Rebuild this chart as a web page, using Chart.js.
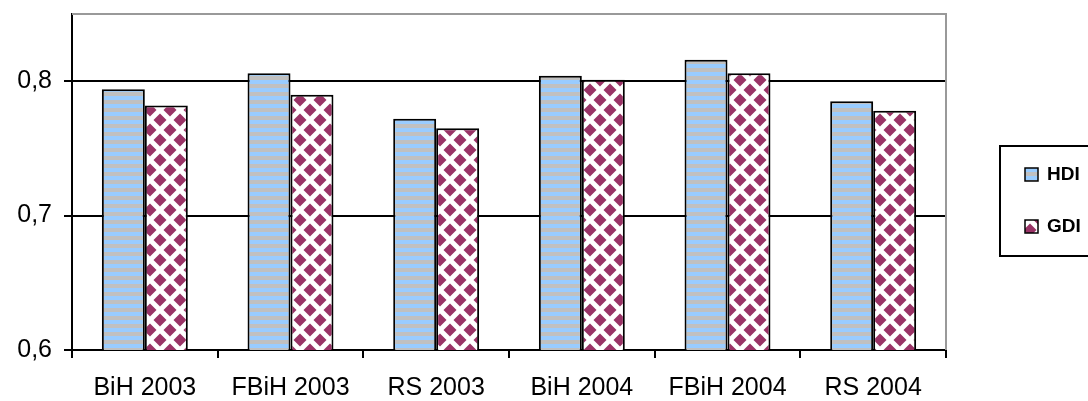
<!DOCTYPE html>
<html lang="en">
<head>
    <meta charset="UTF-8">
    <title>HDI / GDI</title>
    <script src="https://cdn.jsdelivr.net/npm/chart.js"></script>
    <style>
        body {
            margin: 0;
            padding: 0;
            background-color: #fff;
        }

        #chart-container {
            width: 1088px;
            height: 401px;
        }
    </style>
</head>
<body>
<div id="chart-container">
    <canvas id="chart1" width="1088" height="401"></canvas>
</div>

<script>
    var categories = ['BiH 2003', 'FBiH 2003', 'RS 2003', 'BiH 2004', 'FBiH 2004', 'RS 2004'];
    var hdiValues = [0.794, 0.806, 0.772, 0.804, 0.816, 0.785];
    var gdiValues = [0.782, 0.790, 0.765, 0.801, 0.806, 0.778];
    var yTicks = [0.6, 0.7, 0.8];

    // horizontal stripes, light blue / grey
    function stripePattern(ctx) {
        var c = document.createElement('canvas');
        c.width = 8;
        c.height = 8;
        var g = c.getContext('2d');
        g.fillStyle = '#99ccff';
        g.fillRect(0, 0, 8, 4);
        g.fillStyle = '#c0c0c0';
        g.fillRect(0, 4, 8, 4);
        return ctx.createPattern(c, 'repeat');
    }

    // maroon diamonds on white
    function diamondPattern(ctx) {
        var c = document.createElement('canvas');
        c.width = 20;
        c.height = 20;
        var g = c.getContext('2d');
        g.fillStyle = '#fff';
        g.fillRect(0, 0, 20, 20);
        g.fillStyle = '#993366';
        var centers = [[0, 0], [20, 0], [0, 20], [20, 20], [10, 10]];
        var r = 6.5;
        centers.forEach(function (p) {
            g.beginPath();
            g.moveTo(p[0], p[1] - r);
            g.lineTo(p[0] + r, p[1]);
            g.lineTo(p[0], p[1] + r);
            g.lineTo(p[0] - r, p[1]);
            g.closePath();
            g.fill();
        });
        return ctx.createPattern(c, 'repeat');
    }

    var ctx = document.getElementById('chart1').getContext('2d');
    var hdiFill = stripePattern(ctx);
    var gdiFill = diamondPattern(ctx);

    var frame = {
        id: 'frame',
        afterDatasetsDraw: function (chart) {
            var a = chart.chartArea;
            var c = chart.ctx;
            c.save();
            c.strokeStyle = '#999999';
            c.lineWidth = 2;
            c.beginPath();
            c.moveTo(a.left, a.top);
            c.lineTo(a.right, a.top);
            c.lineTo(a.right, a.bottom);
            c.stroke();
            c.restore();
        },
        afterDraw: function (chart) {
            // legend box, cut off by the right edge like the original
            var c = chart.ctx;
            c.save();
            c.strokeStyle = '#000';
            c.lineWidth = 2;
            c.strokeRect(1000, 146, 100, 110);
            c.font = 'bold 19px "Liberation Sans", Arial, sans-serif';
            c.textBaseline = 'middle';
            var items = [
                { label: chart.data.datasets[0].label, fill: hdiFill, y: 174 },
                { label: chart.data.datasets[1].label, fill: gdiFill, y: 226 }
            ];
            items.forEach(function (it) {
                c.fillStyle = it.fill;
                c.fillRect(1025, it.y - 6, 13, 13);
                c.lineWidth = 1.5;
                c.strokeRect(1025, it.y - 6, 13, 13);
                c.fillStyle = '#000';
                c.fillText(it.label, 1047, it.y + 1);
            });
            c.restore();
        }
    };

    new Chart(ctx, {
        type: 'bar',
        data: {
            labels: categories,
            datasets: [{
                label: 'HDI',
                data: hdiValues,
                backgroundColor: hdiFill,
                borderColor: '#000',
                borderWidth: 2,
                borderSkipped: 'bottom'
            }, {
                label: 'GDI',
                data: gdiValues,
                backgroundColor: gdiFill,
                borderColor: '#000',
                borderWidth: 2,
                borderSkipped: 'bottom'
            }]
        },
        options: {
            responsive: false,
            animation: false,
            devicePixelRatio: 1,
            layout: {
                padding: { top: 14, right: 142, left: 0, bottom: 0 }
            },
            datasets: {
                bar: {
                    categoryPercentage: 0.59,
                    barPercentage: 1
                }
            },
            plugins: {
                legend: { display: false },
                tooltip: { enabled: false }
            },
            scales: {
                x: {
                    afterFit: function (scale) {
                        scale.height = 51;
                        scale.paddingLeft = 0;
                        scale.paddingRight = 0;
                    },
                    grid: {
                        offset: true,
                        drawOnChartArea: false,
                        color: '#000',
                        lineWidth: 2,
                        tickLength: 8
                    },
                    border: { color: '#000', width: 2 },
                    ticks: {
                        color: '#000',
                        padding: 15,
                        maxRotation: 0,
                        font: { family: '"Liberation Sans", Arial, sans-serif', size: 25 }
                    }
                },
                y: {
                    min: 0.6,
                    max: 0.85,
                    afterFit: function (scale) {
                        scale.width = 72;
                        scale.paddingTop = 0;
                        scale.paddingBottom = 0;
                    },
                    afterBuildTicks: function (scale) {
                        scale.ticks = yTicks.map(function (v) { return { value: v }; });
                    },
                    grid: {
                        color: '#000',
                        lineWidth: 2,
                        tickLength: 8
                    },
                    border: { color: '#000', width: 2 },
                    ticks: {
                        color: '#000',
                        padding: 12,
                        font: { family: '"Liberation Sans", Arial, sans-serif', size: 25 },
                        callback: function (v) { return v.toFixed(1).replace('.', ','); }
                    }
                }
            }
        },
        plugins: [frame]
    });
</script>
</body>
</html>
